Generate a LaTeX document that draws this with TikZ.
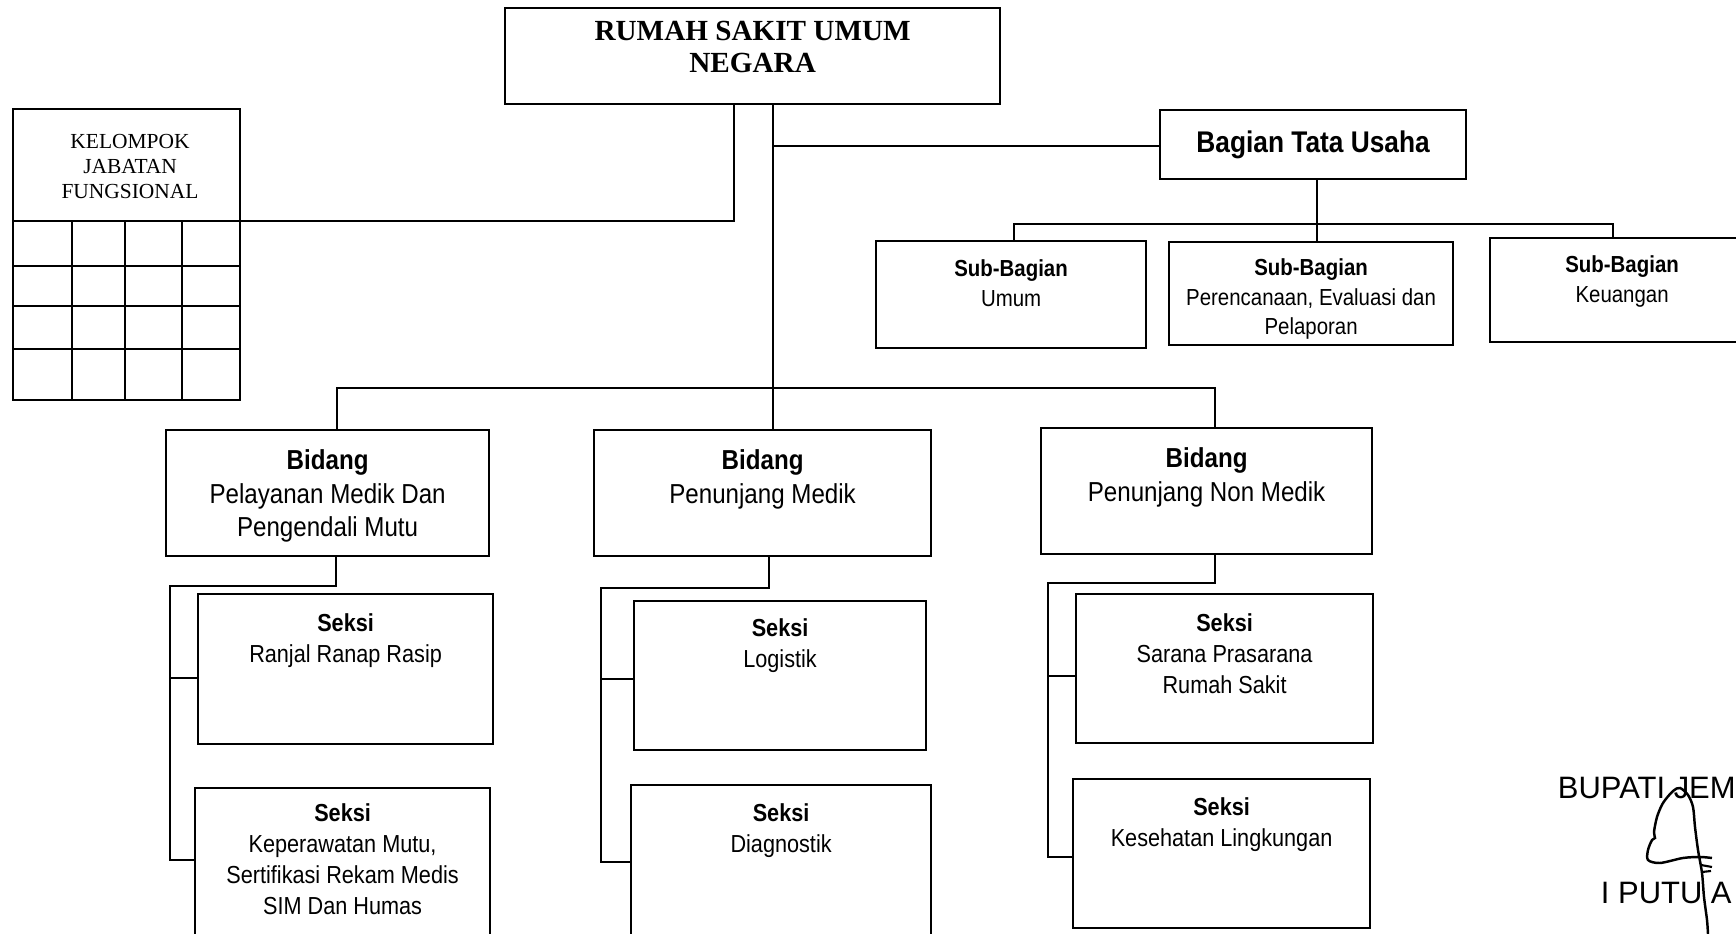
\documentclass[tikz,border=0pt]{standalone}
\usepackage{fontspec}
\setmainfont{Liberation Serif}
\newfontfamily\narrowsans{Liberation Sans}[FakeStretch=0.88]
\newfontfamily\plainsans{Liberation Sans}
\usepackage{tikz}
\usetikzlibrary{positioning}

\begin{document}
\begin{tikzpicture}[
    x=0.01cm, y=-0.01cm,
    line width=0.55pt,
    box/.style={draw, anchor=north west, inner sep=0pt, outer sep=0pt},
    txt/.style={inner sep=0pt, align=center},
    roottxt/.style={txt, font=\fontsize{8.3}{9.1}\selectfont\bfseries},
    fungtxt/.style={txt, font=\fontsize{6.1}{7}\selectfont},
    tutxt/.style={txt, font=\narrowsans\fontsize{8.5}{10}\selectfont\bfseries},
    subtxt/.style={txt, font=\narrowsans\fontsize{6.6}{8.4}\selectfont},
    bidtxt/.style={txt, font=\narrowsans\fontsize{7.8}{9.5}\selectfont},
    seksitxt/.style={txt, font=\narrowsans\fontsize{7}{8.8}\selectfont},
    signtxt/.style={inner sep=0pt, anchor=base west, font=\plainsans\fontsize{8.8}{10}\selectfont}
]
  \useasboundingbox (0,0) rectangle (1736,934);
  \clip (0,0) rectangle (1736,934);

  \node[box, minimum width=4.95cm, minimum height=0.96cm] (rsu) at (505,8) {};
  \node[roottxt, below=0.124cm of rsu.north] (rsut) {RUMAH SAKIT UMUM\\NEGARA};

  \node[box, minimum width=2.27cm, minimum height=2.91cm] (fung) at (13,109) {};
  \node[fungtxt, below=0.246cm of fung.north, xshift=0.035cm] (fungt) {KELOMPOK\\JABATAN\\FUNGSIONAL};
  \foreach \gy in {221,266,306,349} \draw (fung.west |- 0,\gy) -- (fung.east |- 0,\gy);
  \foreach \gx in {72,125,182} \draw (\gx,221) -- (\gx,0 |- fung.south);

  \node[box, tutxt, minimum width=3.06cm, minimum height=0.69cm] (tu) at (1160,110) {Bagian Tata Usaha};

  \node[box, minimum width=2.70cm, minimum height=1.07cm] (sb1) at (876,241) {};
  \node[subtxt, below=0.18cm of sb1.north] (sb1t) {\textbf{Sub-Bagian}\\Umum};
  \node[box, minimum width=2.84cm, minimum height=1.03cm] (sb2) at (1169,242) {};
  \node[subtxt, below=0.16cm of sb2.north] (sb2t) {\textbf{Sub-Bagian}\\Perencanaan, Evaluasi dan\\Pelaporan};
  \node[box, minimum width=2.64cm, minimum height=1.04cm] (sb3) at (1490,238) {};
  \node[subtxt, below=0.17cm of sb3.north] (sb3t) {\textbf{Sub-Bagian}\\Keuangan};

  \node[box, minimum width=3.23cm, minimum height=1.26cm] (bid1) at (166,430) {};
  \node[bidtxt, below=0.19cm of bid1.north] (bid1t) {\textbf{Bidang}\\Pelayanan Medik Dan\\Pengendali Mutu};
  \node[box, minimum width=3.37cm, minimum height=1.26cm] (bid2) at (594,430) {};
  \node[bidtxt, below=0.19cm of bid2.north] (bid2t) {\textbf{Bidang}\\Penunjang Medik};
  \node[box, minimum width=3.31cm, minimum height=1.26cm] (bid3) at (1041,428) {};
  \node[bidtxt, below=0.19cm of bid3.north] (bid3t) {\textbf{Bidang}\\Penunjang Non Medik};

  \node[box, minimum width=2.95cm, minimum height=1.50cm] (s11) at (198,594) {};
  \node[seksitxt, below=0.19cm of s11.north] (s11t) {\textbf{Seksi}\\Ranjal Ranap Rasip};
  \node[box, minimum width=2.95cm, minimum height=1.50cm] (s12) at (195,788) {};
  \node[seksitxt, below=0.15cm of s12.north] (s12t) {\textbf{Seksi}\\Keperawatan Mutu,\\Sertifikasi Rekam Medis\\SIM Dan Humas};
  \node[box, minimum width=2.92cm, minimum height=1.49cm] (s21) at (634,601) {};
  \node[seksitxt, below=0.17cm of s21.north] (s21t) {\textbf{Seksi}\\Logistik};
  \node[box, minimum width=3.00cm, minimum height=1.50cm] (s22) at (631,785) {};
  \node[seksitxt, below=0.18cm of s22.north] (s22t) {\textbf{Seksi}\\Diagnostik};
  \node[box, minimum width=2.97cm, minimum height=1.49cm] (s31) at (1076,594) {};
  \node[seksitxt, below=0.19cm of s31.north] (s31t) {\textbf{Seksi}\\Sarana Prasarana\\Rumah Sakit};
  \node[box, minimum width=2.97cm, minimum height=1.49cm] (s32) at (1073,779) {};
  \node[seksitxt, below=0.18cm of s32.north] (s32t) {\textbf{Seksi}\\Kesehatan Lingkungan};

  \coordinate (jkf) at (734,221);
  \coordinate (jtu) at (773,146);
  \coordinate (jmain) at (773,388);
  \coordinate (jsub) at (1317,224);
  \coordinate (jsub1) at (1014,224);
  \coordinate (jsub3) at (1613,224);
  \coordinate (jbid1) at (337,388);
  \coordinate (jbid3) at (1215,388);

  \draw (rsu.south -| jkf) -- (jkf) -- (fung.east |- jkf);
  \draw (rsu.south -| jmain) -- (bid2.north -| jmain);
  \draw (jtu) -- (tu.west |- jtu);
  \draw (tu.south -| jsub) -- (sb2.north -| jsub);
  \draw (sb1.north -| jsub1) -- (jsub1) -- (jsub3) -- (sb3.north -| jsub3);
  \draw (bid1.north -| jbid1) -- (jbid1) -- (jbid3) -- (bid3.north -| jbid3);

  \coordinate (k1) at (170,586);
  \coordinate (t11) at (170,678);
  \coordinate (t12) at (170,860);
  \draw (bid1.south -| 336,0) |- (k1) -- (t12) -- (t12 -| s12.west);
  \draw (t11) -- (t11 -| s11.west);

  \coordinate (k2) at (601,588);
  \coordinate (t21) at (601,679);
  \coordinate (t22) at (601,862);
  \draw (bid2.south -| 769,0) |- (k2) -- (t22) -- (t22 -| s22.west);
  \draw (t21) -- (t21 -| s21.west);

  \coordinate (k3) at (1048,583);
  \coordinate (t31) at (1048,676);
  \coordinate (t32) at (1048,857);
  \draw (bid3.south -| jbid3) |- (k3) -- (t32) -- (t32 -| s32.west);
  \draw (t31) -- (t31 -| s31.west);

  \node[signtxt] (bupati) at (1557,798) {BUPATI JEM};
  \node[signtxt] (putu) at (1600,903) {I PUTU A};
  \draw[line width=0.7pt] plot[smooth] coordinates {(1712,858) (1700,857) (1683,858) (1660,863) (1648,860) (1648,850) (1652,840) (1655,838) (1654,832) (1657,817) (1663,803) (1673,791) (1680,788) (1688,795) (1693,807) (1695,827) (1698,850) (1702,873) (1704,897) (1707,920) (1708,934)};
  \draw[line width=0.6pt] (1701,865) -- (1712,867);
  \draw[line width=0.6pt] (1702,872) -- (1711,871);
\end{tikzpicture}
\end{document}
